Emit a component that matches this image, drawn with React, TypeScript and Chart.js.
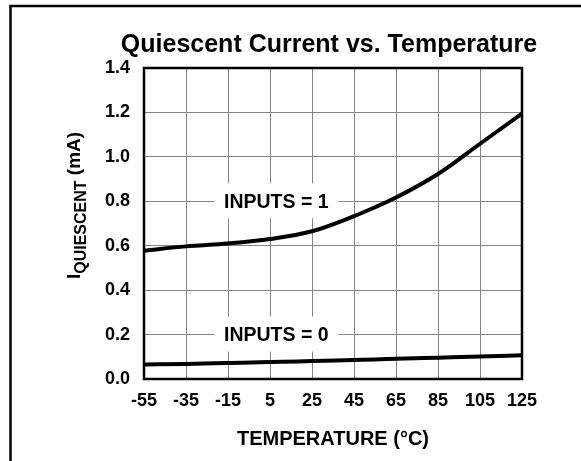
import React, { useEffect, useRef } from 'react';
import { Chart, registerables } from 'chart.js';

Chart.register(...registerables);

// Data
const temperatures = [-55, -35, -15, 5, 25, 45, 55, 65, 85, 105, 125];
const inputsHigh = [0.578, 0.597, 0.61, 0.63, 0.665, 0.733, 0.773, 0.817, 0.923, 1.059, 1.195];
const inputsLow = [0.065, 0.068, 0.072, 0.076, 0.081, 0.086, 0.088, 0.091, 0.096, 0.101, 0.107];
const xTickValues = [-55, -35, -15, 5, 25, 45, 65, 85, 105, 125];
const yTickValues = [0, 0.2, 0.4, 0.6, 0.8, 1.0, 1.2, 1.4];

const chartTitle = 'Quiescent Current vs. Temperature';
const xAxisTitle = 'TEMPERATURE (°C)';
const yAxisMain = 'I';
const yAxisSub = 'QUIESCENT';
const yAxisTail = ' (mA)';
const seriesLabels = ['INPUTS = 1', 'INPUTS = 0'];
const labelAnchorsX = [8, 8];
const labelAnchorsY = [0.8, 0.2];

const FONT = '"Liberation Sans", Arial, Helvetica, sans-serif';

const decorPlugin = {
  id: 'decor',
  beforeDraw(chart: any) {
    const ctx = chart.ctx as CanvasRenderingContext2D;
    ctx.save();
    ctx.fillStyle = '#ffffff';
    ctx.fillRect(0, 0, chart.width, chart.height);
    // outer frame (left + top)
    ctx.strokeStyle = '#000';
    ctx.lineWidth = 2.5;
    ctx.beginPath();
    ctx.moveTo(10.5, chart.height);
    ctx.lineTo(10.5, 6);
    ctx.lineTo(chart.width, 6);
    ctx.stroke();
    // main title
    const area = chart.chartArea;
    ctx.fillStyle = '#000';
    ctx.font = `bold 25px ${FONT}`;
    ctx.textAlign = 'center';
    ctx.textBaseline = 'alphabetic';
    ctx.fillText(chartTitle, 329, 52);
    // y axis title with subscript
    ctx.translate(80, (area.top + area.bottom) / 2 - 18);
    ctx.rotate(-Math.PI / 2);
    ctx.textAlign = 'left';
    ctx.textBaseline = 'alphabetic';
    const mainFont = `bold 19px ${FONT}`;
    const subFont = `bold 16px ${FONT}`;
    ctx.font = mainFont;
    const w1 = ctx.measureText(yAxisMain).width;
    const w3 = ctx.measureText(yAxisTail).width;
    ctx.font = subFont;
    const w2 = ctx.measureText(yAxisSub).width;
    const total = w1 + w2 + w3;
    let x = -total / 2;
    ctx.font = mainFont;
    ctx.fillText(yAxisMain, x, 0);
    x += w1;
    ctx.font = subFont;
    ctx.fillText(yAxisSub, x, 6);
    x += w2;
    ctx.font = mainFont;
    ctx.fillText(yAxisTail, x, 0);
    ctx.restore();
  },
  beforeDatasetsDraw(chart: any) {
    const ctx = chart.ctx as CanvasRenderingContext2D;
    const area = chart.chartArea;
    const xs = chart.scales.x;
    const ys = chart.scales.y;
    ctx.save();
    // series labels with white backgrounds
    for (let i = 0; i < seriesLabels.length; i++) {
      const cx = xs.getPixelForValue(labelAnchorsX[i]);
      const cy = ys.getPixelForValue(labelAnchorsY[i]);
      ctx.fillStyle = '#fff';
      ctx.fillRect(cx - 62, cy - 18, 124, 35);
      ctx.fillStyle = '#000';
      ctx.font = `bold 19.5px ${FONT}`;
      ctx.textAlign = 'center';
      ctx.textBaseline = 'middle';
      ctx.fillText(seriesLabels[i], cx, cy + 1);
    }
    // plot box
    ctx.strokeStyle = '#000';
    ctx.lineWidth = 2.5;
    ctx.strokeRect(area.left, area.top, area.right - area.left, area.bottom - area.top);
    ctx.restore();
  },
};

export default function App() {
  const canvasRef = useRef<HTMLCanvasElement | null>(null);

  useEffect(() => {
    if (!canvasRef.current) return;
    const chart = new Chart(canvasRef.current, {
      type: 'line',
      data: {
        datasets: [
          {
            label: seriesLabels[0],
            data: temperatures.map((t, i) => ({ x: t, y: inputsHigh[i] })),
            borderColor: '#000',
            borderWidth: 4,
            pointRadius: 0,
            cubicInterpolationMode: 'monotone',
            fill: false,
          },
          {
            label: seriesLabels[1],
            data: temperatures.map((t, i) => ({ x: t, y: inputsLow[i] })),
            borderColor: '#000',
            borderWidth: 4,
            pointRadius: 0,
            cubicInterpolationMode: 'monotone',
            fill: false,
          },
        ],
      },
      options: {
        animation: false,
        responsive: false,
        devicePixelRatio: 1,
        layout: { padding: { left: 0, right: 59, top: 68, bottom: 0 } },
        plugins: {
          legend: { display: false },
          tooltip: { enabled: false },
          title: { display: false },
        },
        scales: {
          x: {
            type: 'linear',
            min: -55,
            max: 125,
            afterFit: (s: any) => { s.height = 82; },
            afterBuildTicks: (s: any) => { s.ticks = xTickValues.map((v) => ({ value: v })); },
            grid: { color: '#858585', lineWidth: 1, drawTicks: false },
            border: { display: false },
            ticks: {
              color: '#000',
              font: { family: FONT, size: 18, weight: 'bold' },
              padding: 11,
              maxRotation: 0,
              autoSkip: false,
              callback: (v: any) => String(v),
            },
            title: {
              display: true,
              text: xAxisTitle,
              color: '#000',
              font: { family: FONT, size: 20, weight: 'bold' },
              padding: { top: 0, bottom: 10 },
            },
          },
          y: {
            type: 'linear',
            min: 0,
            max: 1.4,
            afterFit: (s: any) => { s.width = 144; },
            afterBuildTicks: (s: any) => { s.ticks = yTickValues.map((v) => ({ value: v })); },
            grid: { color: '#858585', lineWidth: 1, drawTicks: false },
            border: { display: false },
            ticks: {
              color: '#000',
              font: { family: FONT, size: 18, weight: 'bold' },
              padding: 14,
              autoSkip: false,
              callback: (v: any) => Number(v).toFixed(1),
            },
          },
        },
      },
      plugins: [decorPlugin],
    });
    return () => chart.destroy();
  }, []);

  return (
    <div style={{ position: 'absolute', left: 0, top: 0, width: 581, height: 461 }}>
      <canvas ref={canvasRef} width={581} height={461} style={{ width: 581, height: 461 }} />
    </div>
  );
}
